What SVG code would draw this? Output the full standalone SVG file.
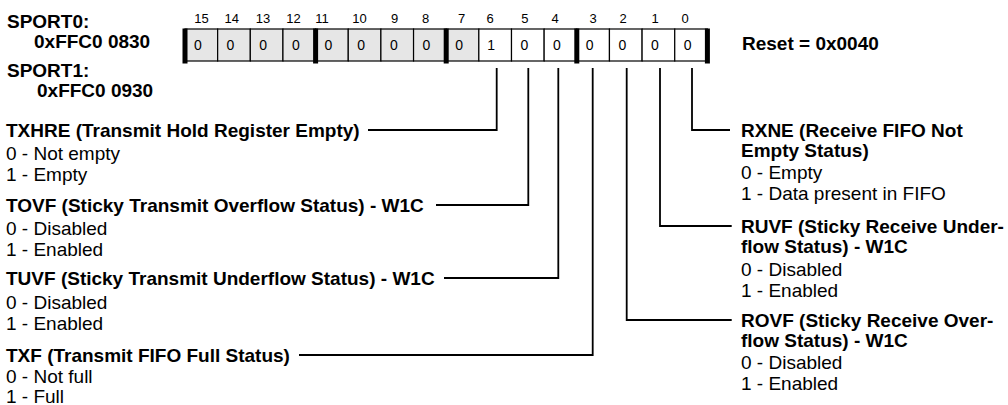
<svg xmlns="http://www.w3.org/2000/svg" width="1008" height="405" viewBox="0 0 1008 405">
<style>
text{font-family:"Liberation Sans",Arial,Helvetica,sans-serif;fill:#000}
.b{font-weight:bold;font-size:19px}
.r{font-size:19px}
.n{font-size:13px;text-anchor:middle}
.d{font-size:14px}
.cell{stroke:#000;stroke-width:1.2}
.g{fill:#e6e6e6}
.w{fill:#fff}
.bar{fill:#000}
.c{fill:none;stroke:#000;stroke-width:1.8}
</style>
<rect width="1008" height="405" fill="#fff"/>
<g id="address">
<text class="b" x="7" y="28">SPORT0:</text>
<text class="b" x="34" y="48">0xFFC0 0830</text>
<text class="b" x="7" y="77">SPORT1:</text>
<text class="b" x="37" y="97">0xFFC0 0930</text>
</g>
<g id="bitnumbers">
<text class="n" x="201.5" y="23">15</text>
<text class="n" x="231.7" y="23">14</text>
<text class="n" x="263" y="23">13</text>
<text class="n" x="293.5" y="23">12</text>
<text class="n" x="322" y="23">11</text>
<text class="n" x="359.5" y="23">10</text>
<text class="n" x="394.7" y="23">9</text>
<text class="n" x="425.5" y="23">8</text>
<text class="n" x="461.7" y="23">7</text>
<text class="n" x="490" y="23">6</text>
<text class="n" x="524.8" y="23">5</text>
<text class="n" x="555" y="23">4</text>
<text class="n" x="593" y="23">3</text>
<text class="n" x="623" y="23">2</text>
<text class="n" x="655" y="23">1</text>
<text class="n" x="685" y="23">0</text>
</g>
<g id="register">
<rect class="cell g" x="185" y="29" width="32.65" height="32"/>
<rect class="cell g" x="217.65" y="29" width="32.65" height="32"/>
<rect class="cell g" x="250.3" y="29" width="32.65" height="32"/>
<rect class="cell g" x="282.95" y="29" width="32.65" height="32"/>
<rect class="cell g" x="315.6" y="29" width="32.65" height="32"/>
<rect class="cell g" x="348.25" y="29" width="32.65" height="32"/>
<rect class="cell g" x="380.9" y="29" width="32.65" height="32"/>
<rect class="cell g" x="413.55" y="29" width="32.65" height="32"/>
<rect class="cell g" x="446.2" y="29" width="32.65" height="32"/>
<rect class="cell w" x="478.85" y="29" width="32.65" height="32"/>
<rect class="cell w" x="511.5" y="29" width="32.65" height="32"/>
<rect class="cell w" x="544.15" y="29" width="32.65" height="32"/>
<rect class="cell w" x="576.8" y="29" width="32.65" height="32"/>
<rect class="cell w" x="609.45" y="29" width="32.65" height="32"/>
<rect class="cell w" x="642.1" y="29" width="32.65" height="32"/>
<rect class="cell w" x="674.75" y="29" width="32.65" height="32"/>
<rect class="bar" x="182.5" y="28.5" width="5" height="35"/>
<rect class="bar" x="313.1" y="28.5" width="5" height="35"/>
<rect class="bar" x="443.7" y="28.5" width="5" height="35"/>
<rect class="bar" x="574.3" y="28.5" width="5" height="35"/>
<rect class="bar" x="704.9" y="28.5" width="5" height="35"/>
<text class="d" x="194" y="50">0</text>
<text class="d" x="226.6" y="50">0</text>
<text class="d" x="259.3" y="50">0</text>
<text class="d" x="291.9" y="50">0</text>
<text class="d" x="324.6" y="50">0</text>
<text class="d" x="357.2" y="50">0</text>
<text class="d" x="389.9" y="50">0</text>
<text class="d" x="422.5" y="50">0</text>
<text class="d" x="455.2" y="50">0</text>
<text class="d" x="487.3" y="50">1</text>
<text class="d" x="520.5" y="50">0</text>
<text class="d" x="553.1" y="50">0</text>
<text class="d" x="585.8" y="50">0</text>
<text class="d" x="618.4" y="50">0</text>
<text class="d" x="651.1" y="50">0</text>
<text class="d" x="683.7" y="50">0</text>
</g>
<g id="reset">
<text class="b" x="742" y="50">Reset = 0x0040</text>
</g>
<g id="connectors">
<path class="c" d="M496.7,68 V130 H368"/>
<path class="c" d="M528.3,68 V205 H436"/>
<path class="c" d="M558.3,68 V278 H444"/>
<path class="c" d="M592.7,68 V355 H299"/>
<path class="c" d="M626.7,68 V320 H731.7"/>
<path class="c" d="M660,68 V226 H731.7"/>
<path class="c" d="M692,68 V130 H730"/>
</g>
<g id="txhre">
<text class="b" x="6" y="136.5">TXHRE (Transmit Hold Register Empty)</text>
<text class="r" x="6" y="159.5">0 - Not empty</text>
<text class="r" x="6" y="180.5">1 - Empty</text>
</g>
<g id="tovf">
<text class="b" x="6" y="211.5">TOVF (Sticky Transmit Overflow Status) - W1C</text>
<text class="r" x="6" y="234.5">0 - Disabled</text>
<text class="r" x="6" y="255.5">1 - Enabled</text>
</g>
<g id="tuvf">
<text class="b" x="6" y="284.5">TUVF (Sticky Transmit Underflow Status) - W1C</text>
<text class="r" x="6" y="309">0 - Disabled</text>
<text class="r" x="6" y="330">1 - Enabled</text>
</g>
<g id="txf">
<text class="b" x="6" y="361.5">TXF (Transmit FIFO Full Status)</text>
<text class="r" x="6" y="383">0 - Not full</text>
<text class="r" x="6" y="403">1 - Full</text>
</g>
<g id="rxne">
<text class="b" x="741" y="136.5">RXNE (Receive FIFO Not</text>
<text class="b" x="741" y="157">Empty Status)</text>
<text class="r" x="741" y="179">0 - Empty</text>
<text class="r" x="741" y="199.5">1 - Data present in FIFO</text>
</g>
<g id="ruvf">
<text class="b" x="741" y="232.5">RUVF (Sticky Receive Under-</text>
<text class="b" x="741" y="253">flow Status) - W1C</text>
<text class="r" x="741" y="275.5">0 - Disabled</text>
<text class="r" x="741" y="296.5">1 - Enabled</text>
</g>
<g id="rovf">
<text class="b" x="741" y="326.5">ROVF (Sticky Receive Over-</text>
<text class="b" x="741" y="347">flow Status) - W1C</text>
<text class="r" x="741" y="368.5">0 - Disabled</text>
<text class="r" x="741" y="389.5">1 - Enabled</text>
</g>
</svg>
